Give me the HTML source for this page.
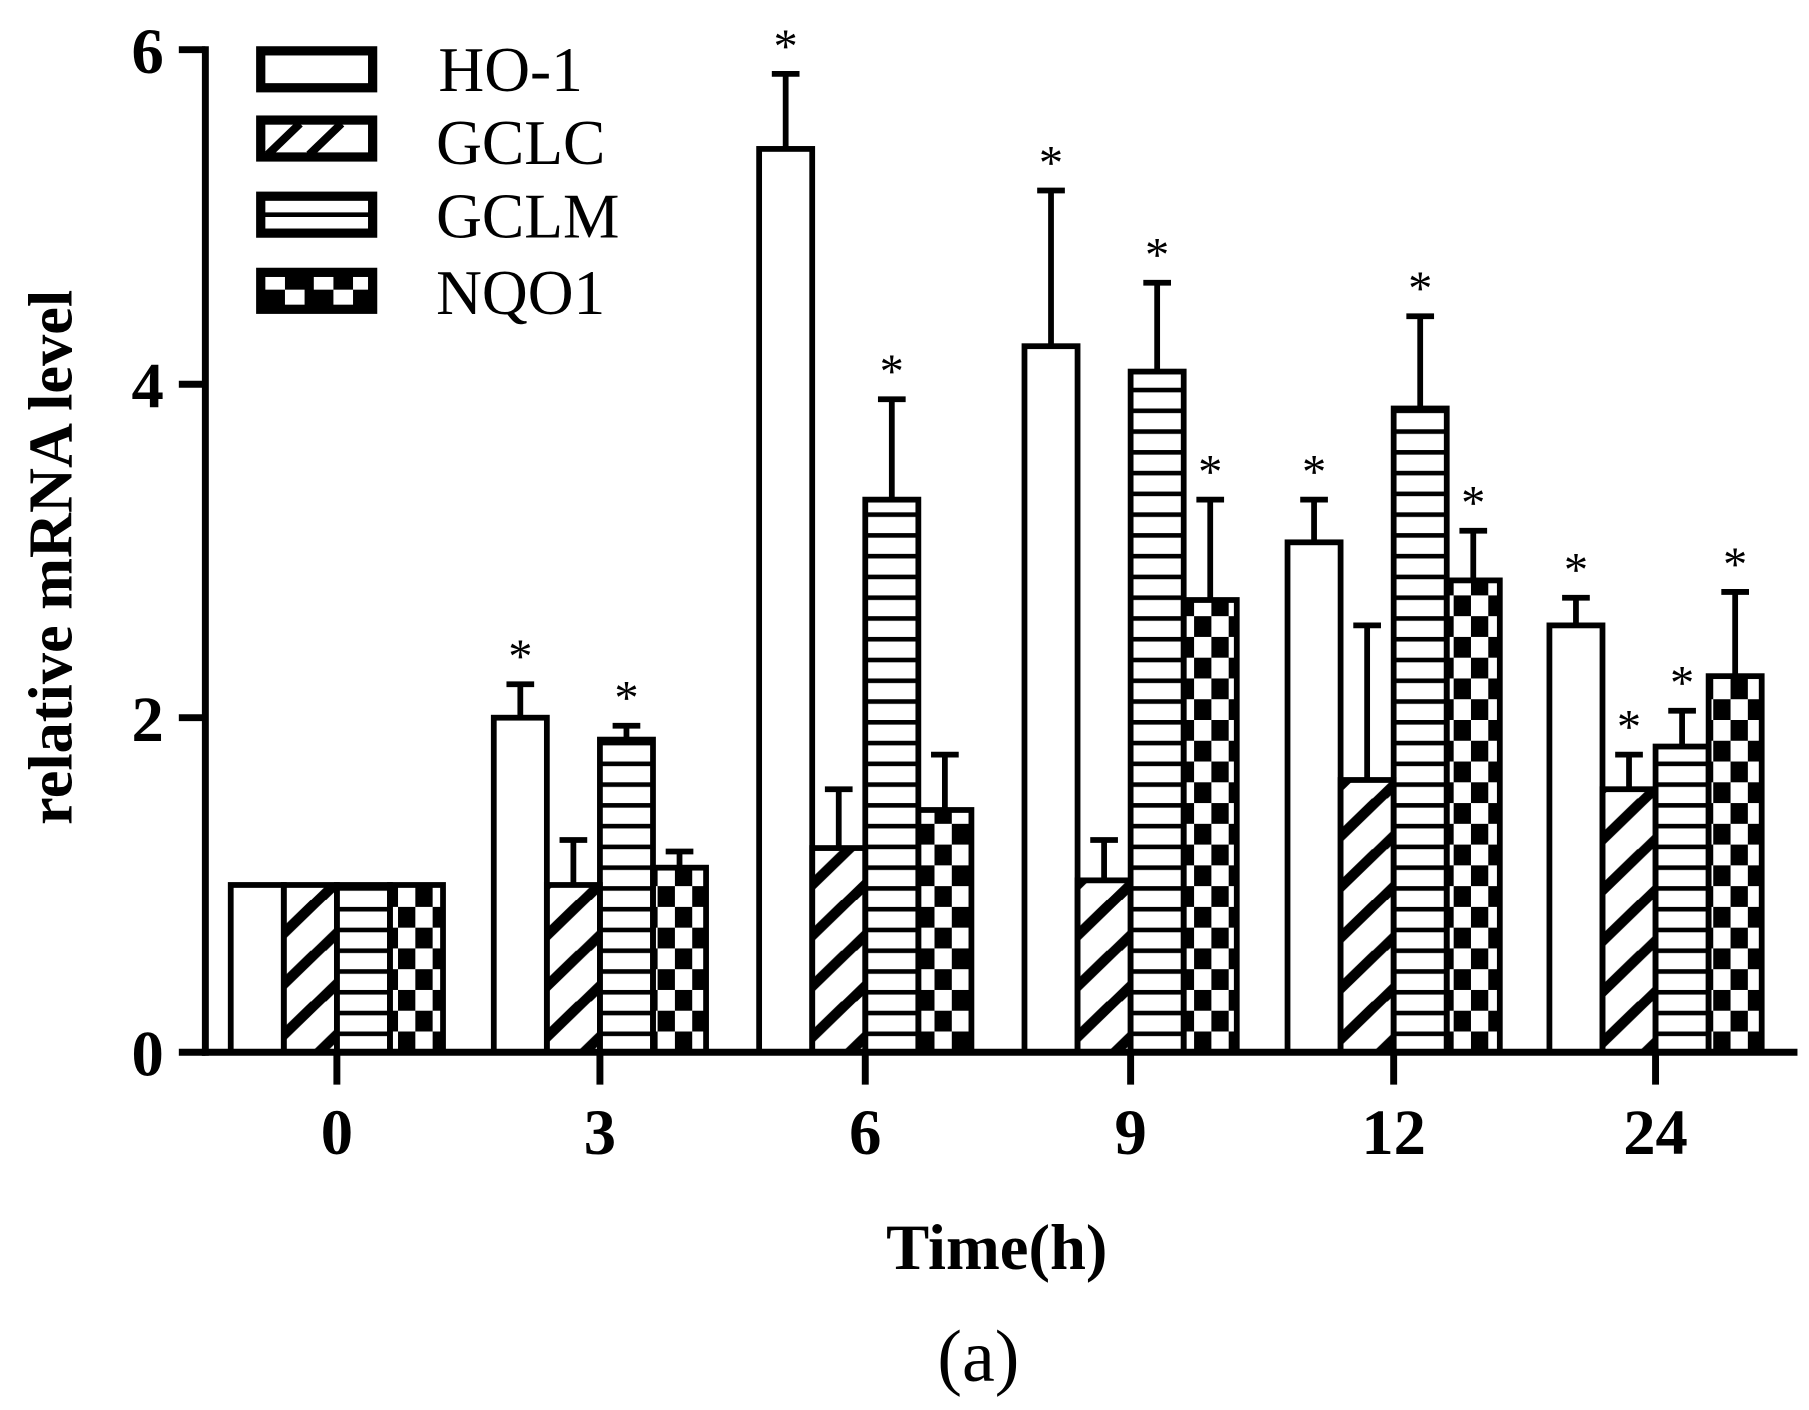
<!DOCTYPE html>
<html><head><style>body{margin:0;background:#fff}svg{display:block}</style></head><body>
<svg width="1809" height="1410" viewBox="0 0 1568 1222" xmlns="http://www.w3.org/2000/svg" font-family="Liberation Serif, serif">
<defs>
<pattern id="diag" patternUnits="userSpaceOnUse" width="46" height="44" patternTransform="translate(0,912)">
<path d="M-10,54 L56,-10" stroke="#000" stroke-width="9"/><path d="M-56,54 L10,-10" stroke="#000" stroke-width="9"/><path d="M36,54 L102,-10" stroke="#000" stroke-width="9"/>
</pattern>
<pattern id="horiz" patternUnits="userSpaceOnUse" width="46" height="18" patternTransform="translate(0,912)">
<rect x="0" y="0" width="46" height="4" fill="#000"/>
</pattern>
<pattern id="check" patternUnits="userSpaceOnUse" width="30" height="36" patternTransform="translate(0,912)">
<rect x="0" y="0" width="15" height="18" fill="#000"/><rect x="15" y="18" width="15" height="18" fill="#000"/>
</pattern>
</defs>
<!-- error bars -->
<g stroke="#000" stroke-width="5">
<path d="M451,622V593M439,593H463 M497,767V728M485,728H509 M543,641V629M531,629H555 M589,752V738M577,738H601"/>
<path d="M681,129V64M669,64H693 M727,735V684M715,684H739 M773,433V346M761,346H785 M819,702V654M807,654H831"/>
<path d="M911,300V165M899,165H923 M957,763V728M945,728H969 M1003,322V245M991,245H1015 M1049,520V433M1037,433H1061"/>
<path d="M1139,470V433M1127,433H1151 M1185,676V542M1173,542H1197 M1231,354V274M1219,274H1243 M1277,503V460M1265,460H1289"/>
<path d="M1366,542V518M1354,518H1378 M1412,684V654M1400,654H1424 M1458,647V616M1446,616H1470 M1504,586V513M1492,513H1516"/>
</g>
<g stroke="#000" stroke-width="5">
<rect x="200" y="767" width="46" height="145" fill="#fff"/>
<rect x="246" y="767" width="46" height="145" fill="url(#diag)"/>
<rect x="292" y="767" width="46" height="145" fill="url(#horiz)"/>
<rect x="338" y="767" width="46" height="145" fill="url(#check)"/>

<rect x="428" y="622" width="46" height="290" fill="#fff"/>
<rect x="474" y="767" width="46" height="145" fill="url(#diag)"/>
<rect x="520" y="641" width="46" height="271" fill="url(#horiz)"/>
<rect x="566" y="752" width="46" height="160" fill="url(#check)"/>

<rect x="658" y="129" width="46" height="783" fill="#fff"/>
<rect x="704" y="735" width="46" height="177" fill="url(#diag)"/>
<rect x="750" y="433" width="46" height="479" fill="url(#horiz)"/>
<rect x="796" y="702" width="46" height="210" fill="url(#check)"/>

<rect x="888" y="300" width="46" height="612" fill="#fff"/>
<rect x="934" y="763" width="46" height="149" fill="url(#diag)"/>
<rect x="980" y="322" width="46" height="590" fill="url(#horiz)"/>
<rect x="1026" y="520" width="46" height="392" fill="url(#check)"/>

<rect x="1116" y="470" width="46" height="442" fill="#fff"/>
<rect x="1162" y="676" width="46" height="236" fill="url(#diag)"/>
<rect x="1208" y="354" width="46" height="558" fill="url(#horiz)"/>
<rect x="1254" y="503" width="46" height="409" fill="url(#check)"/>

<rect x="1343" y="542" width="46" height="370" fill="#fff"/>
<rect x="1389" y="684" width="46" height="228" fill="url(#diag)"/>
<rect x="1435" y="647" width="46" height="265" fill="url(#horiz)"/>
<rect x="1481" y="586" width="46" height="326" fill="url(#check)"/>
</g>
<g font-size="42" text-anchor="middle">
<text x="451" y="583">*</text><text x="543" y="619">*</text>
<text x="681" y="54">*</text><text x="773" y="336">*</text>
<text x="911" y="155">*</text><text x="1003" y="235">*</text><text x="1049" y="423">*</text>
<text x="1139" y="423">*</text><text x="1231" y="264">*</text><text x="1277" y="450">*</text>
<text x="1366" y="508">*</text><text x="1412" y="644">*</text><text x="1458" y="606">*</text><text x="1504" y="503">*</text>
</g>
<!-- axes -->
<g stroke="#000" stroke-width="6">
<line x1="178" y1="40" x2="178" y2="915"/>
<line x1="175" y1="912" x2="1558" y2="912"/>
<line x1="155" y1="43" x2="178" y2="43"/><line x1="155" y1="333" x2="178" y2="333"/><line x1="155" y1="622" x2="178" y2="622"/><line x1="155" y1="912" x2="178" y2="912"/>
<line x1="292" y1="912" x2="292" y2="940"/><line x1="520" y1="912" x2="520" y2="940"/><line x1="750" y1="912" x2="750" y2="940"/><line x1="980" y1="912" x2="980" y2="940"/><line x1="1208" y1="912" x2="1208" y2="940"/><line x1="1435" y1="912" x2="1435" y2="940"/>
</g>
<g font-weight="bold" font-size="56" text-anchor="end">
<text x="142" y="63">6</text><text x="142" y="353">4</text><text x="142" y="642">2</text><text x="142" y="932">0</text>
</g>
<g font-weight="bold" font-size="56" text-anchor="middle">
<text x="292" y="1000">0</text><text x="520" y="1000">3</text><text x="750" y="1000">6</text><text x="980" y="1000">9</text><text x="1208" y="1000">12</text><text x="1435" y="1000">24</text>
<text x="864" y="1100">Time(h)</text>
<text transform="translate(62,483) rotate(-90)" font-size="54">relative mRNA level</text>
</g>
<text x="848" y="1197" font-size="64" text-anchor="middle">(a)</text>
<!-- legend -->
<g stroke="#000" stroke-width="8">
<rect x="226" y="44" width="97" height="32" fill="#fff"/>
<rect x="226" y="104" width="97" height="32" fill="#fff"/>
<rect x="226" y="170" width="97" height="32" fill="#fff"/>
<rect x="226" y="236" width="97" height="32" fill="#000"/>
</g>
<path d="M232,134 L260,107 M268,134 L296,107" stroke="#000" stroke-width="7"/>
<line x1="228" y1="186" x2="320" y2="186" stroke="#000" stroke-width="4"/>
<g fill="#fff"><rect x="230" y="240" width="17" height="11"/><rect x="247" y="251" width="17" height="13"/><rect x="272" y="240" width="17" height="11"/><rect x="289" y="251" width="17" height="13"/><rect x="306" y="240" width="13" height="11"/></g>
<g font-size="55">
<text x="380" y="79">HO-1</text><text x="378" y="142">GCLC</text><text x="378" y="206">GCLM</text><text x="378" y="272">NQO1</text>
</g>
</svg>
</body></html>
